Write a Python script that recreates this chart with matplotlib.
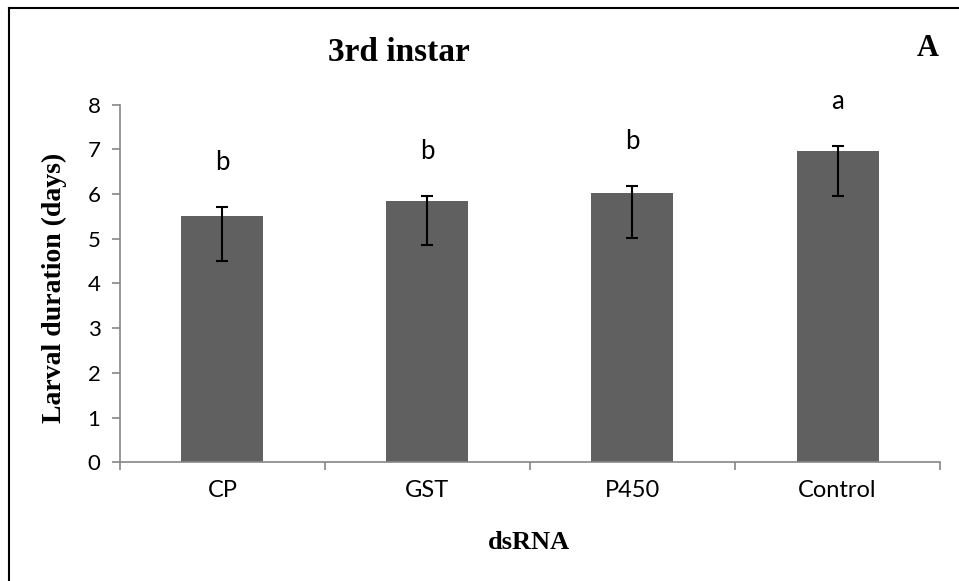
import matplotlib
matplotlib.use("Agg")
import matplotlib.pyplot as plt
from matplotlib.lines import Line2D
import numpy as np

# Larval duration of 3rd instar after dsRNA treatment
categories = ["CP", "GST", "P450", "Control"]
mean_days = [5.51, 5.85, 6.03, 6.96]
err_lower = [1.01, 0.99, 1.01, 1.00]
err_upper = [0.20, 0.11, 0.16, 0.12]
letters = ["b", "b", "b", "a"]
yticks = [0, 1, 2, 3, 4, 5, 6, 7, 8]

sans = ["Lato", "DejaVu Sans"]
serif = ["Liberation Serif", "DejaVu Serif"]
axis_grey = "#868686"

fig = plt.figure(figsize=(9.59, 5.81), dpi=100)
ax = fig.add_axes([0.1251, 0.2043, 0.8551, 0.6157])

x = np.arange(len(categories))
ax.bar(x, mean_days, width=0.4, color="#606060", zorder=2)
ax.errorbar(x, mean_days, yerr=[err_lower, err_upper], fmt="none",
            ecolor="black", elinewidth=1.5, capsize=4.3, capthick=1.5, zorder=3)

for xi, m, eu, lab in zip(x, mean_days, err_upper, letters):
    ax.annotate(lab, (xi, m + eu), xytext=(0, 32), textcoords="offset points",
                ha="center", va="center", fontsize=18.5, family=sans)

ax.set_xlim(-0.5, len(categories) - 0.5)
ax.set_ylim(0, 8)
ax.set_yticks(yticks)
ax.set_yticklabels([str(t) for t in yticks], family=sans, fontsize=16)
ax.set_xticks(x)
ax.set_xticklabels(categories, family=sans, fontsize=17)
ax.set_xticks(np.arange(-0.5, len(categories)), minor=True)
ax.tick_params(axis="x", which="major", length=0, pad=13)
ax.tick_params(axis="x", which="minor", length=6, color=axis_grey, width=1.2,
               direction="out")
ax.tick_params(axis="y", length=6, color=axis_grey, width=1.2, direction="out", pad=8)

for side in ("top", "right"):
    ax.spines[side].set_visible(False)
for side in ("left", "bottom"):
    ax.spines[side].set_color(axis_grey)
    ax.spines[side].set_linewidth(1.2)

fig.text(0.416, 0.910, "3rd instar", ha="center", va="center",
         fontsize=24, fontweight="bold", family=serif)
fig.text(0.967, 0.917, "A", ha="center", va="center",
         fontsize=22, fontweight="bold", family=serif)
fig.text(0.057, 0.504, "Larval duration (days)", ha="center", va="center",
         rotation=90, fontsize=20, fontweight="bold", family=serif)
fig.text(0.552, 0.067, "dsRNA", ha="center", va="center",
         fontsize=19, fontweight="bold", family=serif)

# outer frame (top and left edges)
fig.add_artist(Line2D([9 / 959, 1.0], [1 - 8 / 581, 1 - 8 / 581],
                      transform=fig.transFigure, color="black", linewidth=1.5))
fig.add_artist(Line2D([9 / 959, 9 / 959], [0.0, 1 - 8 / 581],
                      transform=fig.transFigure, color="black", linewidth=1.5))

fig.savefig("out.png", dpi=100, facecolor="white")
